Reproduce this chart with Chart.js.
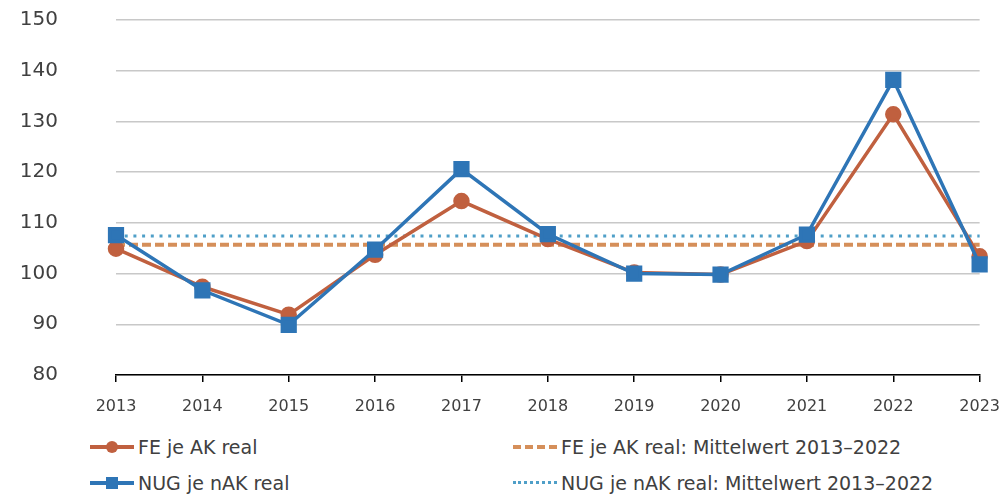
<!DOCTYPE html>
<html>
<head>
<meta charset="utf-8">
<script src="https://cdn.jsdelivr.net/npm/chart.js@4.4.1/dist/chart.umd.min.js"></script>
<style>
  body { margin: 0; background: #fff; }
  #wrap { position: relative; width: 1006px; height: 497px; overflow: hidden; }
  #chart { position: absolute; left: 0; top: 0; }
  .leg { position: absolute; font-family: "DejaVu Sans", sans-serif;
         font-size: 19px; color: #404040; white-space: nowrap; line-height: 20px; }
  .leg span.sample { display: inline-block; position: relative; width: 44px; height: 20px; vertical-align: top; margin-right: 4px; }
  .leg span.sample i { position: absolute; left: 0; right: 0; top: 8px; }
  .leg span.sample b { position: absolute; top: 4px; left: 16px; width: 12px; height: 12px; }
</style>
</head>
<body>
<div id="wrap">
  <canvas id="chart" width="1006" height="425"></canvas>
  <div class="leg" style="left:90px;top:437px"><span class="sample"><i style="border-top:4px solid #C0603F"></i><b style="background:#C0603F;border-radius:50%"></b></span>FE je AK real</div>
  <div class="leg" style="left:90px;top:473px"><span class="sample"><i style="border-top:4px solid #2E75B6"></i><b style="background:#2E75B6"></b></span>NUG je nAK real</div>
  <div class="leg" style="left:513px;top:437px"><span class="sample"><i style="border-top:4px dashed #D58F5A"></i></span>FE je AK real: Mittelwert 2013–2022</div>
  <div class="leg" style="left:513px;top:473px"><span class="sample"><i style="border-top:3px dotted #4F9FC8"></i></span>NUG je nAK real: Mittelwert 2013–2022</div>
</div>
<script>
const years = ["2013", "2014", "2015", "2016", "2017", "2018", "2019", "2020", "2021", "2022", "2023"];
const feReal = [104.9, 97.4, 91.9, 103.7, 114.3, 106.8, 100.2, 99.8, 106.4, 131.4, 103.4];
const nugReal = [107.6, 96.7, 89.9, 104.7, 120.6, 107.8, 100.0, 99.8, 107.7, 138.2, 101.8];
const feMean = 105.7;
const nugMean = 107.4;

new Chart(document.getElementById("chart"), {
  type: "line",
  data: {
    labels: years,
    datasets: [
      {
        label: "NUG je nAK real",
        data: nugReal,
        borderColor: "#2E75B6",
        backgroundColor: "#2E75B6",
        borderWidth: 3.5,
        pointStyle: "rect",
        pointRadius: 9,
        tension: 0,
        order: 0
      },
      {
        label: "FE je AK real",
        data: feReal,
        borderColor: "#C0603F",
        backgroundColor: "#C0603F",
        borderWidth: 3.5,
        pointStyle: "circle",
        pointRadius: 6.5,
        tension: 0,
        order: 1
      },
      {
        label: "NUG je nAK real: Mittelwert 2013–2022",
        data: years.map(() => nugMean),
        borderColor: "#4F9FC8",
        borderWidth: 3,
        borderDash: [3, 5.7],
        pointRadius: 0,
        order: 2
      },
      {
        label: "FE je AK real: Mittelwert 2013–2022",
        data: years.map(() => feMean),
        borderColor: "#D58F5A",
        borderWidth: 4,
        borderDash: [9, 4],
        pointRadius: 0,
        order: 3
      }
    ]
  },
  options: {
    responsive: false,
    animation: false,
    layout: { padding: { left: 0, right: 25, top: 20, bottom: 10 } },
    plugins: {
      legend: { display: false },
      tooltip: { enabled: false }
    },
    scales: {
      x: {
        offset: false,
        grid: { display: true, drawOnChartArea: false, drawTicks: true, tickLength: 7, color: "#000", lineWidth: 1.5 },
        border: { display: true, color: "#000", width: 1.5 },
        ticks: { color: "#404040", font: { family: "'DejaVu Sans', sans-serif", size: 16, lineHeight: 2.3 }, padding: 6, maxRotation: 0 },
        afterFit: scale => { scale.height = 40; }
      },
      y: {
        min: 80,
        max: 150,
        grid: { color: "#C8C8C8", lineWidth: 1.5, drawTicks: true, tickLength: 56, tickColor: "rgba(0,0,0,0)" },
        border: { display: false },
        ticks: { stepSize: 10, color: "#404040", font: { family: "'DejaVu Sans', sans-serif", size: 20 }, padding: 2 },
        afterFit: scale => { scale.width = 116; }
      }
    }
  }
});
</script>
</body>
</html>
